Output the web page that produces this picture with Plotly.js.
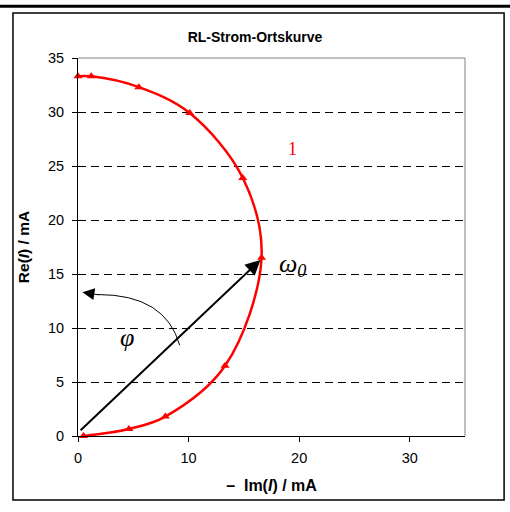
<!DOCTYPE html>
<html><head><meta charset="utf-8">
<script src="https://cdn.plot.ly/plotly-3.0.1.min.js"></script>
<style>html,body{margin:0;padding:0;background:#fff}#chart{width:510px;height:512px}</style>
</head><body><div id="chart"></div>
<script>
// Data (mA)
var imValues = [0, 1.2, 5.5, 10.1, 14.9, 16.6, 13.3, 7.9, 4.6, 0.5]; // -Im(I)
var reValues = [33.3, 33.3, 32.3, 29.9, 23.9, 16.5, 6.5, 1.8, 0.65, 0.0]; // Re(I)
var xTicks = [0, 10, 20, 30];
var yTicks = [0, 5, 10, 15, 20, 25, 30, 35];
var titleText = 'RL-Strom-Ortskurve';
var xTitle = '\u2013&nbsp;&nbsp;Im(<i>I</i>) / mA';
var yTitle = 'Re(<i>I</i>) / mA';
var phasorStart = [0.1, 0.4];
var phasorEnd = [16.5, 16.3];

var FONT = 'Arial, "Liberation Sans", sans-serif';
var SERIF = '"Times New Roman", "Liberation Serif", serif';

var trace = {
  x: imValues, y: reValues, type: 'scatter', mode: 'lines+markers',
  line: {color: '#FF0000', width: 2.5, shape: 'spline', smoothing: 1},
  marker: {symbol: 'triangle-up', size: 8, color: '#FF0000'},
  cliponaxis: false, hoverinfo: 'none'
};

var layout = {
  width: 510, height: 512,
  margin: {l: 78, r: 45, t: 58, b: 76},
  paper_bgcolor: '#fff', plot_bgcolor: '#fff',
  showlegend: false,
  title: {text: '<b>' + titleText + '</b>', font: {family: FONT, size: 14, color: '#000'},
          x: 0.5, xanchor: 'center', y: 0.928, yanchor: 'middle'},
  xaxis: {range: [0, 35], tickvals: xTicks, ticktext: xTicks.map(String),
          showgrid: false, zeroline: false, showline: true, linecolor: '#000', linewidth: 1,
          ticks: 'outside', ticklen: 5, tickcolor: '#000', ticklabelstandoff: 4,
          tickfont: {family: FONT, size: 14.5, color: '#000'},
          title: {text: '<b>' + xTitle + '</b>', font: {family: FONT, size: 16, color: '#000'}, standoff: 14}},
  yaxis: {range: [0, 35], tickvals: yTicks, ticktext: yTicks.map(String),
          showgrid: true, gridcolor: '#000', griddash: '8px,5px', gridwidth: 1,
          zeroline: false, showline: true, linecolor: '#000', linewidth: 1,
          ticks: 'outside', ticklen: 5, tickcolor: '#000', ticklabelstandoff: 5,
          tickfont: {family: FONT, size: 14.5, color: '#000'},
          title: {text: '<b>' + yTitle + '</b>', font: {family: FONT, size: 15.5, color: '#000'}, standoff: 14}},
  shapes: [
    {type: 'rect', xref: 'paper', yref: 'paper', x0: -0.168, x1: 1.101, y0: -0.169, y1: 1.119,
     line: {color: '#000', width: 1.5}, fillcolor: 'rgba(0,0,0,0)', layer: 'below'},
    {type: 'line', xref: 'paper', yref: 'paper', x0: -0.21, x1: 1.12, y0: 1.137, y1: 1.137,
     line: {color: '#000', width: 3}},
    {type: 'line', xref: 'paper', yref: 'paper', x0: 0, x1: 1, y0: 1, y1: 1, line: {color: '#808080', width: 1}},
    {type: 'line', xref: 'paper', yref: 'paper', x0: 1, x1: 1, y0: 0, y1: 1, line: {color: '#808080', width: 1}},
    {type: 'path', xref: 'x', yref: 'y', path: 'M 9.2,8.4 Q 7.9,13.1 1.8,13.1',
     line: {color: '#000', width: 1}}
  ],
  annotations: [
    {x: phasorEnd[0], y: phasorEnd[1], ax: phasorStart[0], ay: phasorStart[1], axref: 'x', ayref: 'y',
     xref: 'x', yref: 'y', text: '', showarrow: true, arrowhead: 2, arrowsize: 1.5, arrowwidth: 2, arrowcolor: '#000'},
    {x: 0.4, y: 13.3, ax: 2.0, ay: 13.05, axref: 'x', ayref: 'y', xref: 'x', yref: 'y', text: '',
     showarrow: true, arrowhead: 2, arrowsize: 2.4, arrowwidth: 1, arrowcolor: '#000'},
    {x: 4.4, y: 9.1, xref: 'x', yref: 'y', text: '<i>\u03C6</i>', showarrow: false,
     font: {family: SERIF, size: 26, color: '#000'}},
    {x: 19.4, y: 15.8, xref: 'x', yref: 'y', text: '<i>\u03C9<sub>0</sub></i>', showarrow: false,
     font: {family: SERIF, size: 26, color: '#000'}},
    {x: 19.4, y: 26.6, xref: 'x', yref: 'y', text: '1', showarrow: false,
     font: {family: SERIF, size: 18, color: '#FF0000'}}
  ]
};

Plotly.newPlot('chart', [trace], layout, {staticPlot: true, displayModeBar: false});
</script>
</body></html>
